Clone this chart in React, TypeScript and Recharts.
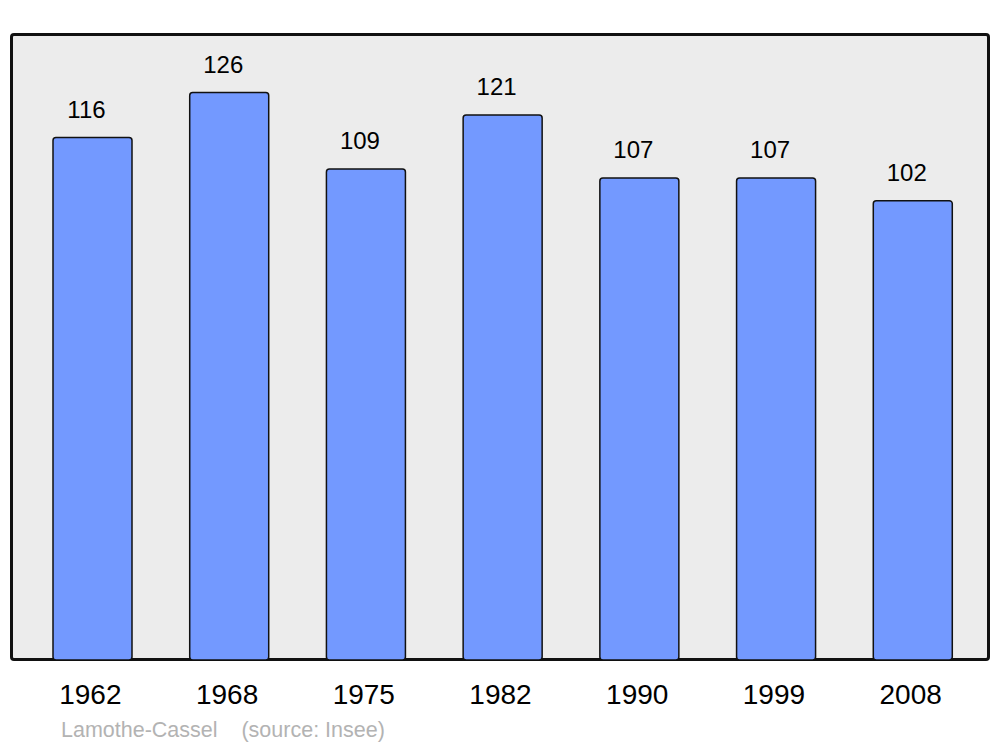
import React from 'react';
import { BarChart, Bar, XAxis, YAxis, LabelList } from 'recharts';

const years = ['1962', '1968', '1975', '1982', '1990', '1999', '2008'];
const population = [116, 126, 109, 121, 107, 107, 102];

const data = years.map((year, i) => ({ year, value: population[i] }));

const FONT = '"Liberation Sans", Arial, sans-serif';

const renderTick = (props: any) => {
    const { x, y, payload } = props;
    return (
        <text x={x - 2} y={y + 36} textAnchor="middle" fontSize={28} fontFamily={FONT} fill="#000">
            {payload.value}
        </text>
    );
};

const renderLabel = (props: any) => {
    const { x, y, width, value } = props;
    return (
        <text x={x + width / 2 - 6} y={y - 20} textAnchor="middle" fontSize={24} fontFamily={FONT} fill="#000">
            {value}
        </text>
    );
};

export default function App() {
    return (
        <div style={{ position: 'absolute', left: 0, top: 0, width: 1000, height: 747, background: '#fff' }}>
            <div
                style={{
                    position: 'absolute',
                    left: 10,
                    top: 33,
                    width: 974,
                    height: 622,
                    background: '#ececec',
                    border: '3px solid #111',
                    borderRadius: 4,
                }}
            />
            <div style={{ position: 'absolute', left: 0, top: 0 }}>
                <BarChart
                    width={1000}
                    height={747}
                    data={data}
                    margin={{ top: 34, right: 11, bottom: 27, left: 11 }}
                >
                    <XAxis
                        dataKey="year"
                        height={60}
                        padding={{ left: 13, right: 8 }}
                        axisLine={false}
                        tickLine={false}
                        tick={renderTick}
                        interval={0}
                    />
                    <YAxis hide domain={[0, 139]} />
                    <Bar
                        dataKey="value"
                        barSize={79}
                        fill="#7399ff"
                        stroke="#111"
                        strokeWidth={1.5}
                        radius={[3, 3, 3, 3]}
                        isAnimationActive={false}
                    >
                        <LabelList dataKey="value" content={renderLabel} />
                    </Bar>
                </BarChart>
            </div>
            <div
                style={{
                    position: 'absolute',
                    left: 61,
                    top: 718,
                    fontFamily: FONT,
                    fontSize: 21.5,
                    color: '#b3b3b3',
                    whiteSpace: 'pre',
                }}
            >
                {'Lamothe-Cassel    (source: Insee)'}
            </div>
        </div>
    );
}
